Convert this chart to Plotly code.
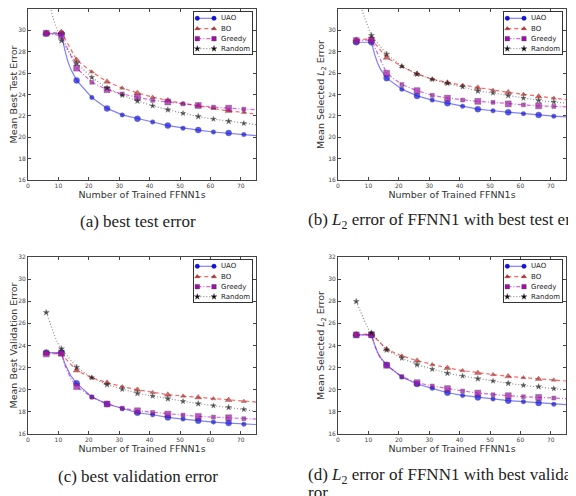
import plotly.graph_objects as go

# number of trained FFNN1s at which each method is marked
MARK_X = [6, 11, 16, 21, 26, 31, 36, 41, 46, 51, 56, 61, 66, 71]
X_TICKS = [0, 10, 20, 30, 40, 50, 60, 70]
Y_TICKS = [16, 18, 20, 22, 24, 26, 28, 30, 32]
METHODS = ["UAO", "BO", "Greedy", "Random"]

# (a) mean best test error
A_UAO = [29.70, 29.70, 25.32, 23.72, 22.70, 22.09, 21.73, 21.43, 21.09, 20.85, 20.67, 20.49, 20.40, 20.25]
A_BO = [29.76, 29.85, 27.23, 26.11, 25.20, 24.60, 24.15, 23.75, 23.45, 23.15, 22.94, 22.70, 22.45, 22.33]
A_GREEDY = [29.73, 29.50, 26.47, 25.14, 24.45, 24.05, 23.75, 23.45, 23.30, 23.12, 22.97, 22.82, 22.72, 22.63]
A_RANDOM = [33.80, 29.04, 26.92, 25.60, 24.60, 23.93, 23.39, 22.94, 22.57, 22.24, 21.94, 21.70, 21.49, 21.30]
# line-only points between markers and at the right edge
A_UAO_EXTRA = [(12, 28.3), (13, 27.2), (14, 26.4), (75, 20.16)]
A_BO_EXTRA = [(75, 22.15)]
A_GREEDY_EXTRA = [(75, 22.58)]
A_RANDOM_EXTRA = [(7, 32.5), (8, 31.4), (9, 30.5), (10, 29.7), (75, 21.18)]

# (b) L2 error of FFNN1 with best test error
B_UAO = [28.89, 28.89, 25.53, 24.50, 23.87, 23.48, 23.18, 22.90, 22.63, 22.48, 22.33, 22.21, 22.09, 21.97]
B_BO = [29.13, 29.19, 27.44, 26.62, 25.93, 25.44, 25.11, 24.87, 24.63, 24.39, 24.20, 24.02, 23.81, 23.66]
B_GREEDY = [29.04, 29.10, 25.99, 24.93, 24.36, 23.93, 23.66, 23.48, 23.36, 23.27, 23.12, 23.03, 22.94, 22.88]
B_RANDOM = [33.80, 29.52, 27.77, 26.65, 25.90, 25.41, 25.05, 24.72, 24.33, 24.14, 23.90, 23.66, 23.45, 23.30]
B_UAO_EXTRA = [(12, 27.8), (13, 26.95), (14, 26.35), (75, 21.90)]
B_BO_EXTRA = [(75, 23.51)]
B_GREEDY_EXTRA = [(75, 22.85)]
B_RANDOM_EXTRA = [(7, 32.7), (8, 31.8), (9, 31.0), (10, 30.3), (75, 23.20)]

# (c) mean best validation error
C_UAO = [23.36, 23.36, 20.58, 19.34, 18.71, 18.28, 17.92, 17.74, 17.50, 17.35, 17.20, 17.08, 16.99, 16.89]
C_BO = [23.30, 23.21, 21.73, 21.09, 20.64, 20.28, 20.00, 19.76, 19.55, 19.43, 19.31, 19.19, 19.07, 18.95]
C_GREEDY = [23.24, 23.30, 20.28, 19.34, 18.71, 18.34, 18.10, 17.95, 17.80, 17.71, 17.59, 17.53, 17.47, 17.38]
C_RANDOM = [26.98, 23.70, 22.03, 21.09, 20.46, 20.04, 19.67, 19.43, 19.19, 18.95, 18.74, 18.56, 18.40, 18.22]
C_UAO_EXTRA = [(12, 22.45), (13, 21.8), (14, 21.3), (75, 16.86)]
C_BO_EXTRA = [(75, 18.89)]
C_GREEDY_EXTRA = [(12, 22.3), (13, 21.6), (14, 21.05), (75, 17.35)]
C_RANDOM_EXTRA = [(7, 26.2), (8, 25.5), (9, 24.7), (10, 24.1), (75, 18.04)]

# (d) L2 error of FFNN1 with best validation error
D_UAO = [24.96, 24.96, 22.24, 21.15, 20.52, 20.13, 19.73, 19.49, 19.31, 19.16, 19.01, 18.92, 18.80, 18.68]
D_BO = [24.99, 25.05, 23.66, 23.06, 22.63, 22.27, 21.97, 21.73, 21.52, 21.37, 21.21, 21.09, 20.97, 20.88]
D_GREEDY = [24.96, 24.96, 22.21, 21.18, 20.64, 20.34, 20.10, 19.89, 19.70, 19.55, 19.46, 19.37, 19.31, 19.25]
D_RANDOM = [27.98, 25.14, 23.60, 22.85, 22.27, 21.85, 21.49, 21.24, 21.00, 20.79, 20.58, 20.40, 20.28, 20.10]
D_UAO_EXTRA = [(12, 24.1), (13, 23.4), (14, 22.9), (75, 18.65)]
D_BO_EXTRA = [(75, 20.79)]
D_GREEDY_EXTRA = [(12, 24.05), (13, 23.35), (14, 22.85), (75, 19.2)]
D_RANDOM_EXTRA = [(7, 27.3), (8, 26.7), (9, 26.05), (10, 25.5), (75, 19.98)]

L2 = "<i>L</i><sub>2</sub>"
PANELS = [
    dict(series=[A_UAO, A_BO, A_GREEDY, A_RANDOM],
         extra=[A_UAO_EXTRA, A_BO_EXTRA, A_GREEDY_EXTRA, A_RANDOM_EXTRA],
         ylabel="Mean Best Test Error", caption=["(a) best test error"]),
    dict(series=[B_UAO, B_BO, B_GREEDY, B_RANDOM],
         extra=[B_UAO_EXTRA, B_BO_EXTRA, B_GREEDY_EXTRA, B_RANDOM_EXTRA],
         ylabel="Mean Selected " + L2 + " Error",
         caption=["(b) " + L2 + " error of FFNN1 with best test error"]),
    dict(series=[C_UAO, C_BO, C_GREEDY, C_RANDOM],
         extra=[C_UAO_EXTRA, C_BO_EXTRA, C_GREEDY_EXTRA, C_RANDOM_EXTRA],
         ylabel="Mean Best Validation Error", caption=["(c) best validation error"]),
    dict(series=[D_UAO, D_BO, D_GREEDY, D_RANDOM],
         extra=[D_UAO_EXTRA, D_BO_EXTRA, D_GREEDY_EXTRA, D_RANDOM_EXTRA],
         ylabel="Mean Selected " + L2 + " Error",
         caption=["(d) " + L2 + " error of FFNN1 with best validation er-", "ror"]),
]

# matplotlib-like styles: b-o, r--^, m-.s, k:*
STYLES = [
    dict(mc="#1010f0", lc="rgba(0,0,255,0.5)", dash="solid", sym="circle", big=6, small=4.5),
    dict(mc="#d02828", lc="rgba(255,0,0,0.6)", dash="4px,3px", sym="triangle-up", big=6, small=4.5),
    dict(mc="#a010a8", lc="rgba(191,0,191,0.6)", dash="4px,2px,1px,2px", sym="square", big=6, small=4),
    dict(mc="#111111", lc="rgba(0,0,0,0.45)", dash="1px,2px", sym="star", big=4.5, small=4),
]

# the page body has an 8px margin, so the figure is 8px smaller than the window
OFF = 8
W, H = 576 - OFF, 496 - OFF


def px(x):
    return (x - OFF) / W


def py(y):
    return 1 - (y - OFF) / H


# plot areas in window pixels: left, right, top, bottom
BOXES = [(28, 256, 9, 180), (338, 566, 9, 180), (28, 256, 257, 434), (338, 566, 257, 434)]
LEG_W, LEG_H = 58, 42
LEG_ROWS = [6.3, 16.7, 26.7, 36.7]
CAPTION_Y = [221, 221, 476, 476]

fig = go.Figure()
layout = dict(width=W, height=H, margin=dict(l=0, r=0, t=0, b=0),
              paper_bgcolor="white", plot_bgcolor="white", showlegend=False,
              font=dict(family="DejaVu Sans", color="#333"), annotations=[])

for i, panel in enumerate(PANELS):
    n = "" if i == 0 else str(i + 1)
    xa, ya = "x" + n, "y" + n
    ln = str(i + 5)
    lxa, lya = "x" + ln, "y" + ln
    for s, (vals, extra) in enumerate(zip(panel["series"], panel["extra"])):
        st = STYLES[s]
        pts = sorted(list(zip(MARK_X, vals)) + list(extra))
        # the curve
        fig.add_trace(go.Scatter(
            x=[p[0] for p in pts], y=[p[1] for p in pts], mode="lines",
            line=dict(color=st["lc"], width=1.2, dash=st["dash"]),
            xaxis=xa, yaxis=ya, hoverinfo="skip"))
        # the markers
        sizes = [st["big"] if k < 3 or k % 2 == 0 else st["small"] for k in range(len(MARK_X))]
        fig.add_trace(go.Scatter(
            x=MARK_X, y=vals, mode="markers", name=METHODS[s],
            marker=dict(symbol=st["sym"], size=sizes, color=st["mc"],
                        line=dict(color="#222", width=0.4)),
            xaxis=xa, yaxis=ya))
        # legend sample (matplotlib style, two points)
        fig.add_trace(go.Scatter(
            x=[3.3, 20], y=[LEG_ROWS[s]] * 2, mode="lines+markers",
            line=dict(color=st["lc"], width=1.2, dash=st["dash"]),
            marker=dict(symbol=st["sym"], size=4.5, color=st["mc"],
                        line=dict(color="#222", width=0.3)),
            xaxis=lxa, yaxis=lya, hoverinfo="skip"))
        layout["annotations"].append(dict(
            text=METHODS[s], x=25.3, y=LEG_ROWS[s], xref=lxa, yref=lya,
            xanchor="left", yanchor="middle", showarrow=False,
            font=dict(size=7, color="#222")))

    x0, x1, y0, y1 = BOXES[i]
    common = dict(showgrid=False, zeroline=False, showline=True, linecolor="#444",
                  linewidth=1, mirror="allticks", ticks="inside", ticklen=3,
                  tickcolor="#444", tickfont=dict(size=6, color="#444"),
                  automargin=False)
    layout["xaxis" + n] = dict(common, domain=[px(x0), px(x1)], anchor=ya,
                               range=[0, 75], tickvals=X_TICKS,
                               title=dict(text="Number of Trained FFNN1s",
                                          font=dict(size=9.5, color="#333"), standoff=3))
    layout["yaxis" + n] = dict(common, domain=[py(y1), py(y0)], anchor=xa,
                               range=[16, 32], tickvals=Y_TICKS,
                               title=dict(text=panel["ylabel"],
                                          font=dict(size=9.5, color="#333"), standoff=0))

    # legend box in the upper right corner
    lx1, ly0 = x1 - 4, y0 + 3
    box = dict(showgrid=False, zeroline=False, showline=True, linecolor="#333",
               linewidth=0.8, mirror=True, ticks="", showticklabels=False,
               fixedrange=True, automargin=False)
    layout["xaxis" + ln] = dict(box, domain=[px(lx1 - LEG_W), px(lx1)],
                                anchor=lya, range=[0, LEG_W])
    layout["yaxis" + ln] = dict(box, domain=[py(ly0 + LEG_H), py(ly0)],
                                anchor=lxa, range=[LEG_H, 0])

    # sub-figure caption
    cap_x = dict(x=px(137.5), xanchor="center") if i % 2 == 0 else \
        dict(x=px(306), xanchor="left")
    for k, line in enumerate(panel["caption"]):
        layout["annotations"].append(dict(
            cap_x, text=line, xref="paper", yref="paper",
            y=py(CAPTION_Y[i] + 16.5 * k), yanchor="middle", showarrow=False,
            font=dict(family="Liberation Serif", size=17, color="#222")))

fig.update_layout(**layout)
fig.write_html("out.html")
